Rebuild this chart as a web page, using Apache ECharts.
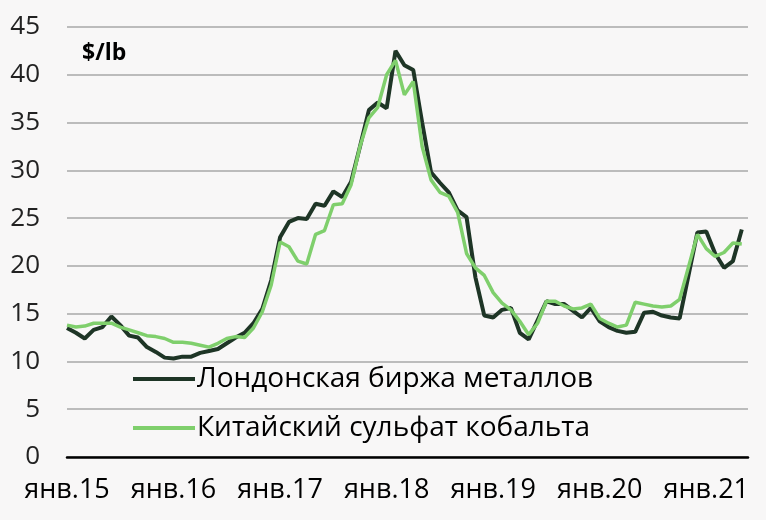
<!DOCTYPE html>
<html>
<head>
<meta charset="utf-8">
<script src="https://cdn.jsdelivr.net/npm/echarts@6/dist/echarts.min.js"></script>
<style>
html,body{margin:0;padding:0;background:#f8f7f7;}
#chart{width:766px;height:520px;}
</style>
</head>
<body>
<div id="chart"></div>
<script>
// Monthly values, index 0 = Jan 2015 ... index 76 = May 2021
const seriesNames = ['Лондонская биржа металлов', 'Китайский сульфат кобальта'];
const tickLabels = ['янв.15', 'янв.16', 'янв.17', 'янв.18', 'янв.19', 'янв.20', 'янв.21'];
const unitLabel = '$/lb';
const lmeValues = [
  13.5, 13.0, 12.4, 13.3, 13.6, 14.7, 13.8, 12.7, 12.5, 11.5, 11.0, 10.4,
  10.3, 10.5, 10.5, 10.9, 11.1, 11.3, 11.9, 12.5, 13.0, 14.0, 15.5, 18.5,
  23.0, 24.6, 25.0, 24.9, 26.5, 26.3, 27.8, 27.2, 28.8, 32.5, 36.3, 37.1,
  36.5, 42.5, 41.0, 40.5, 35.0, 29.8, 28.7, 27.7, 25.8, 25.1, 18.8, 14.8,
  14.6, 15.4, 15.6, 13.0, 12.3, 14.3, 16.3, 16.0, 16.0, 15.3, 14.6, 15.6,
  14.2, 13.6, 13.2, 13.0, 13.1, 15.1, 15.2, 14.8, 14.6, 14.5, 19.0, 23.5,
  23.6, 21.3, 19.8, 20.5, 23.8
];
const chinaValues = [
  13.8, 13.6, 13.7, 14.0, 14.0, 14.0, 13.6, 13.3, 13.0, 12.7, 12.6, 12.4,
  12.0, 12.0, 11.9, 11.7, 11.5, 11.9, 12.4, 12.6, 12.5, 13.5, 15.2, 18.0,
  22.5, 22.0, 20.5, 20.2, 23.3, 23.7, 26.4, 26.5, 28.5, 32.5, 35.5, 36.6,
  40.0, 41.5, 37.9, 39.3, 32.5, 29.0, 27.7, 27.3, 25.6, 21.3, 19.8, 19.0,
  17.2, 16.1, 15.4, 14.2, 12.8, 14.0, 16.3, 16.3, 15.8, 15.5, 15.6, 16.0,
  14.5, 14.0, 13.6, 13.8, 16.2, 16.0, 15.8, 15.7, 15.8, 16.5, 19.9, 23.3,
  21.8, 21.0, 21.4, 22.4, 22.3
];

const chart = echarts.init(document.getElementById('chart'), null, {renderer: 'canvas'});
const font = '"Open Sans", "Noto Sans", sans-serif';
const toPairs = arr => arr.map((v, i) => [i, v]);

chart.setOption({
  backgroundColor: '#f8f7f7',
  animation: false,
  grid: {left: 67, right: 18, top: 27, bottom: 63},
  graphic: [{
    type: 'text', left: 82, top: 42,
    style: {text: unitLabel, font: 'bold 23px ' + font, fill: '#000'}
  }],
  legend: {
    orient: 'vertical', left: 133, top: 365, padding: 0,
    itemWidth: 62, itemHeight: 4, itemGap: 21,
    icon: 'rect',
    textStyle: {fontFamily: font, fontSize: 28, color: '#000', padding: [0, 0, 0, -3]},
    data: seriesNames
  },
  xAxis: {
    type: 'value', min: 0, max: 76.7, interval: 12,
    axisLine: {show: true, lineStyle: {color: '#000', width: 2.5}},
    axisTick: {show: false},
    splitLine: {show: false},
    axisLabel: {
      showMaxLabel: false, margin: 20,
      fontFamily: font, fontSize: 27, color: '#000',
      formatter: v => tickLabels[Math.round(v / 12)] || ''
    }
  },
  yAxis: {
    type: 'value', min: 0, max: 45, interval: 5,
    axisLine: {show: false}, axisTick: {show: false},
    splitLine: {lineStyle: {color: '#a8a8a8', width: 1.5}},
    axisLabel: {margin: 27, fontFamily: font, fontSize: 26, color: '#222'}
  },
  series: [
    {
      name: seriesNames[0], type: 'line', data: toPairs(lmeValues),
      showSymbol: false, symbol: 'none',
      lineStyle: {color: '#1e3526', width: 4},
      itemStyle: {color: '#1e3526'}
    },
    {
      name: seriesNames[1], type: 'line', data: toPairs(chinaValues),
      showSymbol: false, symbol: 'none',
      lineStyle: {color: '#7fcf6c', width: 3.5},
      itemStyle: {color: '#7fcf6c'}
    }
  ]
});
</script>
</body>
</html>
